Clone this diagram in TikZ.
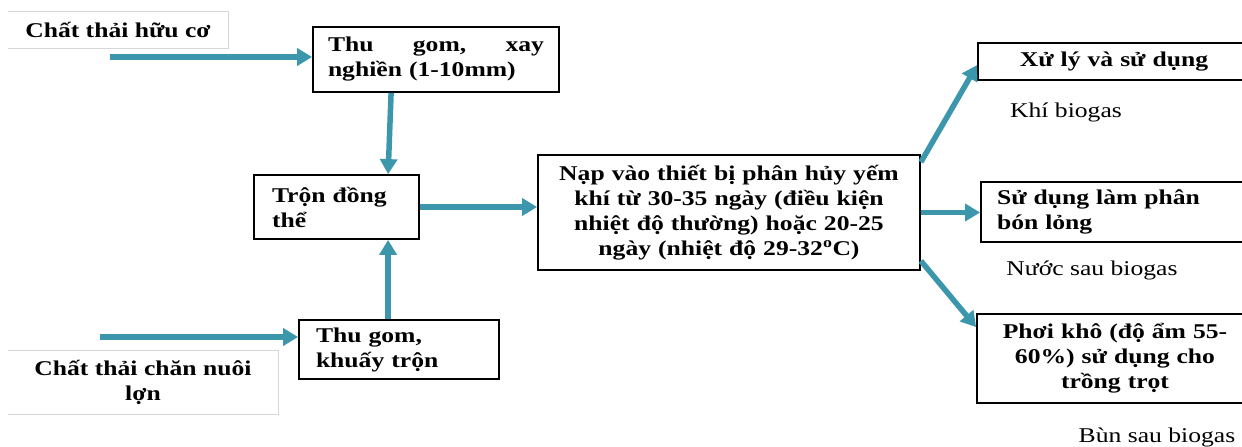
\documentclass[tikz,border=0pt]{standalone}
\usepackage{fontspec}
\setmainfont{Liberation Serif}[FakeStretch=1.22]
\usetikzlibrary{arrows.meta}
\definecolor{arrc}{RGB}{60,150,172}
\definecolor{labc}{RGB}{215,215,215}
\begin{document}
\begin{tikzpicture}[x=1pt,y=-1pt,
  box/.style={draw=black,line width=1.8pt,inner ysep=0pt,font=\fontsize{21}{25}\selectfont\bfseries},
  arr/.style={draw=arrc,line width=5.5pt,-{Triangle[length=15pt,width=17pt]}},
  lab/.style={inner sep=0pt,font=\fontsize{21}{25}\selectfont\bfseries,align=center},
  note/.style={inner sep=0pt,font=\fontsize{21}{25}\selectfont}]
\useasboundingbox (0,0) rectangle (1242,447);

% gray label boxes
\node[lab,minimum width=220pt,minimum height=36pt] (lab1) at (118,30) {Chất thải hữu cơ};
\draw[labc,line width=1pt] (lab1.north west) -- (lab1.north east) -- (lab1.south east) -- (lab1.south west);
\node[lab,minimum width=270pt,minimum height=63pt] (lab2) at (143,382.5) {Chất thải chăn nuôi\\lợn};
\draw[labc,line width=1pt] (lab2.north west) -- (lab2.north east) -- (lab2.south east) -- (lab2.south west);

% process boxes
\node[box,text width=216pt,inner xsep=15pt,minimum height=65pt,align=left] (thu1) at (436,59.5)
  {\hbox to 216pt{Thu\hfill gom,\hfill xay}\\nghiền (1-10mm)};
\node[box,text width=129pt,inner xsep=18pt,minimum height=64pt,align=left] (tron) at (336.5,207)
  {Trộn đồng\\thể};
\node[box,text width=166pt,inner xsep=17pt,minimum height=59pt,align=left] (thu2) at (399,349.5)
  {Thu gom,\\khuấy trộn};
\node[box,text width=370pt,inner xsep=6pt,minimum height=115pt,align=center] (big) at (729,212.5)
  {Nạp vào thiết bị phân hủy yếm\\khí từ 30-35 ngày (điều kiện\\nhiệt độ thường) hoặc 20-25\\ngày (nhiệt độ 29-32\textsuperscript{o}C)};
\node[box,text width=262pt,inner xsep=5pt,minimum height=37pt,align=center] (xuly) at (1114,61.5)
  {Xử lý và sử dụng};
\node[box,text width=240pt,inner xsep=16pt,minimum height=60pt,align=left] (sudung) at (1117,212)
  {Sử dụng làm phân\\bón lỏng};
\node[box,text width=266pt,inner xsep=5pt,minimum height=89pt,align=center] (phoi) at (1115,358.5)
  {Phơi khô (độ ẩm 55-\\60\%) sử dụng cho\\trồng trọt};

% notes
\node[note] (n1) at (1066,112) {Khí biogas};
\node[note] (n2) at (1092,270) {Nước sau biogas};
\node[note] (n3) at (1157,437) {Bùn sau biogas};

% arrows
\coordinate (s1) at (110,57);
\coordinate (s2) at (100,337);
\draw[arr] (s1) -- (s1 -| thu1.west);
\draw[arr] (s2) -- (s2 -| thu2.west);
\draw[arr] ([xshift=79pt]thu1.south west) -- ([xshift=135pt]tron.north west);
\draw[arr] ([xshift=90pt]thu2.north west) -- ([xshift=135pt]tron.south west);
\draw[arr] (tron.east) -- (tron.east -| big.west);
\draw[arr] ([yshift=-8pt]big.north east) -- ([yshift=-3.5pt]xuly.west);
\draw[arr] (big.east) -- (big.east -| sudung.west);
\draw[arr] ([yshift=10pt]big.south east) -- ([yshift=-14pt]phoi.north west);
\end{tikzpicture}
\end{document}
